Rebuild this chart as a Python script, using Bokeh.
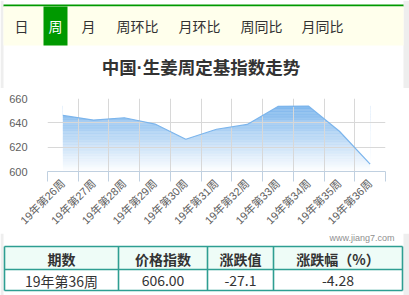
import math
import numpy as np
from bokeh.plotting import figure
from bokeh.layouts import column, row
from bokeh.models import Range1d, FixedTicker
from bokeh.core.properties import value
from bokeh.embed import file_html
from bokeh.resources import INLINE

# ---------------- data ----------------
tabs = ["日", "周", "月", "周环比", "月环比", "周同比", "月同比"]
active_tab = "周"
title_text = "中国·生姜周定基指数走势"
weeks = ["19年第26周", "19年第27周", "19年第28周", "19年第29周", "19年第30周",
         "19年第31周", "19年第32周", "19年第33周", "19年第34周", "19年第35周",
         "19年第36周"]
index_values = [646.1, 642.3, 644.2, 639.0, 626.5, 634.7, 638.7, 653.5, 653.7, 633.1, 606.0]
y_ticks = [600, 620, 640, 660]
table_headers = ["期数", "价格指数", "涨跌值", "涨跌幅（%）"]
credit_text = "www.jiang7.com"

# ---------------- style ----------------
W = 409
FONT = "Noto Sans CJK SC"
MIXED = "Liberation Sans, Noto Sans CJK SC"
TXT = "#333333"
GREEN = "#009900"
TEAL = "#2E9E92"
STRIP = "#EEEEEE"


def screen_fig(h, top):
    p = figure(width=W, height=h, x_range=Range1d(0, W), y_range=Range1d(top + h, top),
               output_backend="svg", toolbar_location=None,
               x_axis_location=None, y_axis_location=None, min_border=0)
    p.grid.visible = False
    p.outline_line_color = None
    p.background_fill_color = "white"
    p.border_fill_color = "white"
    p.quad(left=[0, 403], right=[3, W], bottom=[top + h, top + h], top=[top, top],
           fill_color=STRIP, line_color=None)
    return p


# ---------------- tabs + title ----------------
pA = screen_fig(88, 0)
pA.quad(left=[3], right=[403], top=[4], bottom=[6], fill_color=GREEN, line_color=None)
pA.quad(left=[3], right=[403], top=[6], bottom=[45], fill_color="#FFFFEC", line_color=None)
tab_x = [21, 55, 88, 137, 199, 261, 322]
pA.quad(left=[43], right=[67], top=[6], bottom=[45], fill_color=GREEN, line_color=None)
pA.text(x=tab_x, y=[25.5] * len(tabs), text=tabs,
        text_color=["white" if t == active_tab else TXT for t in tabs],
        text_font=value(FONT), text_font_size="14px",
        text_align="center", text_baseline="middle")
pA.text(x=[200.5], y=[67.5], text=[title_text], text_color=TXT,
        text_font=value(MIXED), text_font_size="17.5px", text_font_style="bold",
        text_align="center", text_baseline="middle")

# ---------------- chart ----------------
n = len(weeks)
xc = np.arange(n) + 0.5
pB = figure(width=W, height=145, x_range=Range1d(0, n), y_range=Range1d(y_ticks[0], y_ticks[-1]),
            output_backend="svg", toolbar_location=None,
            min_border_left=47, min_border_right=24, min_border_top=10, min_border_bottom=61)
pB.outline_line_color = None
pB.background_fill_color = "white"
pB.border_fill_color = "white"

# gradient fill under the line
vmax = max(index_values)
levels = np.linspace(y_ticks[0], vmax, 90)
step = levels[1] - levels[0]
mids = (levels[:-1] + levels[1:]) / 2
tfrac = (vmax - mids) / (vmax - y_ticks[0])
top_rgb = np.array([124, 181, 236])
cols = []
for t in tfrac:
    c = top_rgb * (1 - t) + np.array([255, 255, 255]) * t
    cols.append("#%02x%02x%02x" % tuple(int(round(v)) for v in c))
pB.quad(left=[0.5] * len(mids), right=[n - 0.5] * len(mids),
        bottom=list(levels[:-1]), top=list(levels[1:] + step * 0.5),
        fill_color=cols, line_color=None, level="image")
pB.varea(x=xc, y1=index_values, y2=[y_ticks[-1]] * n, fill_color="white", level="image")
pB.line(xc, index_values, line_color="#7cb5ec", line_width=1.2)

# grids
pB.xgrid.ticker = FixedTicker(ticks=list(range(n + 1)))
pB.ygrid.ticker = FixedTicker(ticks=y_ticks)
pB.grid.grid_line_color = "#D8D8D8"

# y axis
pB.yaxis.ticker = FixedTicker(ticks=y_ticks)
pB.yaxis.axis_line_color = None
pB.yaxis.major_tick_line_color = None
pB.yaxis.minor_tick_line_color = None
pB.yaxis.major_label_standoff = 14
pB.yaxis.major_label_text_font = MIXED
pB.yaxis.major_label_text_font_size = "11px"
pB.yaxis.major_label_text_color = "#606060"

# x axis
pB.xaxis.ticker = FixedTicker(ticks=list(xc), minor_ticks=list(range(n + 1)))
pB.xaxis.major_label_overrides = {float(x): w for x, w in zip(xc, weeks)}
pB.xaxis.major_label_orientation = math.pi / 4
pB.xaxis.axis_line_color = "#C0D0E0"
pB.xaxis.major_tick_line_color = None
pB.xaxis.major_tick_out = 0
pB.xaxis.major_tick_in = 0
pB.xaxis.minor_tick_line_color = "#C0D0E0"
pB.xaxis.minor_tick_out = 10
pB.xaxis.minor_tick_in = 0
pB.xaxis.major_label_standoff = 0
pB.xaxis.major_label_text_font = MIXED
pB.xaxis.major_label_text_font_size = "11px"
pB.xaxis.major_label_text_color = "#606060"

# ---------------- credits + table ----------------
pC = screen_fig(62, 233)
pC.text(x=[394], y=[237.5], text=[credit_text], text_color="#909090",
        text_font=value("Liberation Sans"), text_font_size="9px",
        text_align="right", text_baseline="middle")
col_edges = [4, 118, 207, 273, 402]
row_edges = [246, 269, 290]
pC.quad(left=[col_edges[0]], right=[col_edges[-1]], top=[row_edges[0]], bottom=[row_edges[1]],
        fill_color="#EEFCF7", line_color=None)
xs, ys = [], []
for xe in col_edges:
    xs.append([xe, xe]); ys.append([row_edges[0], row_edges[-1]])
for ye in row_edges:
    xs.append([col_edges[0], col_edges[-1]]); ys.append([ye, ye])
pC.multi_line(xs=xs, ys=ys, line_color=TEAL, line_width=1.6)

latest = index_values[-1]
chg = latest - index_values[-2]
pct = chg / index_values[-2] * 100
row_vals = [weeks[-1], "%.2f" % latest, "%.1f" % chg, "%.2f" % pct]
centers = [(col_edges[i] + col_edges[i + 1]) / 2 for i in range(4)]
pC.text(x=centers, y=[258] * 4, text=table_headers, text_color=TXT,
        text_font=value(FONT), text_font_size="14px", text_font_style="bold",
        text_align="center", text_baseline="middle")
pC.text(x=centers, y=[280] * 4, text=row_vals, text_color=TXT,
        text_font=value(FONT), text_font_size="14px",
        text_align="center", text_baseline="middle")

layout = column(row(pA), row(pB), row(pC), spacing=0)
open("out.html", "w").write(file_html(layout, INLINE))
